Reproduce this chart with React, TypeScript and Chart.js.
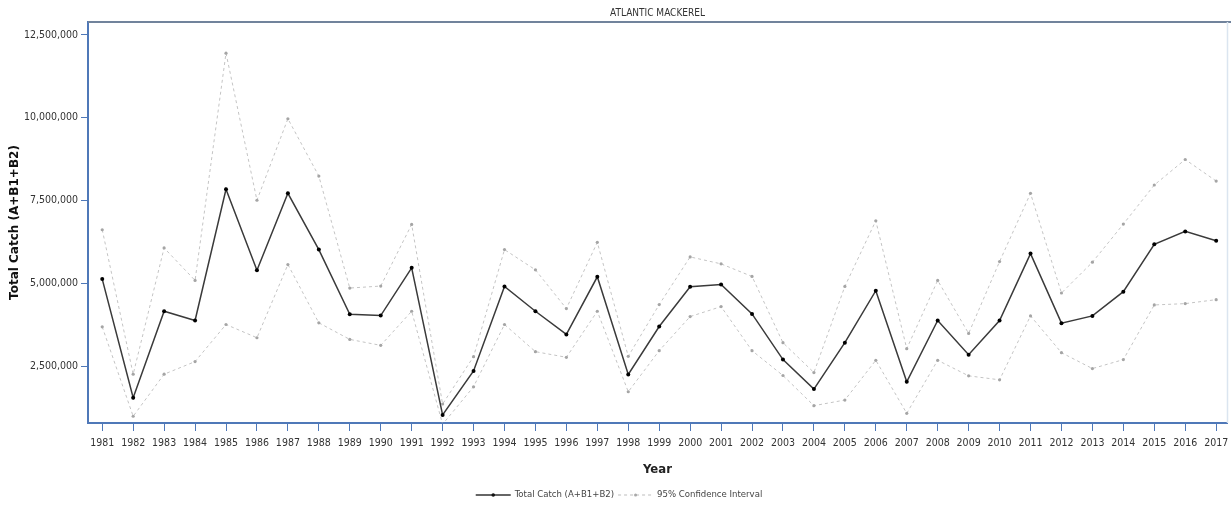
import React, { useEffect, useRef } from "react";
import { Chart, registerables } from "chart.js";

Chart.register(...registerables);

const chartTitle = "ATLANTIC MACKEREL";
const yAxisTitle = "Total Catch (A+B1+B2)";
const xAxisTitle = "Year";
const totalLabel = "Total Catch (A+B1+B2)";
const ciLabel = "95% Confidence Interval";

const years = [
  1981, 1982, 1983, 1984, 1985, 1986, 1987, 1988, 1989, 1990, 1991, 1992, 1993,
  1994, 1995, 1996, 1997, 1998, 1999, 2000, 2001, 2002, 2003, 2004, 2005, 2006,
  2007, 2008, 2009, 2010, 2011, 2012, 2013, 2014, 2015, 2016, 2017,
];

const totalCatch = [
  5130000, 1550000, 4160000, 3880000, 7840000, 5400000, 7720000, 6020000, 4070000,
  4030000, 5470000, 1030000, 2360000, 4910000, 4160000, 3460000, 5200000, 2250000,
  3700000, 4900000, 4970000, 4080000, 2700000, 1810000, 3210000, 4780000, 2030000,
  3880000, 2850000, 3880000, 5900000, 3800000, 4020000, 4750000, 6180000, 6570000,
  6290000,
];

const upperCI = [
  6620000, 2260000, 6070000, 5090000, 11950000, 7510000, 9970000, 8240000, 4860000,
  4920000, 6780000, 1360000, 2790000, 6020000, 5410000, 4240000, 6240000, 2800000,
  4360000, 5800000, 5590000, 5210000, 3210000, 2310000, 4910000, 6890000, 3030000,
  5090000, 3490000, 5660000, 7720000, 4710000, 5640000, 6790000, 7970000, 8740000,
  8090000,
];

const lowerCI = [
  3690000, 990000, 2260000, 2640000, 3760000, 3360000, 5570000, 3810000, 3310000,
  3130000, 4160000, 750000, 1880000, 3760000, 2940000, 2770000, 4160000, 1730000,
  2970000, 4000000, 4300000, 2970000, 2220000, 1310000, 1480000, 2680000, 1080000,
  2680000, 2210000, 2090000, 4020000, 2910000, 2430000, 2700000, 4350000, 4390000,
  4510000,
];

const yTicks = [2500000, 5000000, 7500000, 10000000, 12500000];

const NARROW = '"Liberation Sans Narrow", "DejaVu Sans Condensed", "Roboto Condensed", sans-serif';
const AXIS_BLUE = "#4f78b8";

const toPoints = (vals: number[]) => years.map((yr, i) => ({ x: yr, y: vals[i] }));

const decorPlugin = {
  id: "decor",
  afterDraw(chart: any) {
    const { ctx, chartArea } = chart;
    const W = chart.width;
    ctx.save();
    // top border
    ctx.strokeStyle = "#71839c";
    ctx.lineWidth = 2;
    ctx.beginPath();
    ctx.moveTo(chartArea.left, chartArea.top);
    ctx.lineTo(W, chartArea.top);
    ctx.stroke();
    // right border faint
    ctx.strokeStyle = "#dbe5f0";
    ctx.lineWidth = 1.5;
    ctx.beginPath();
    ctx.moveTo(chartArea.right + 0.5, chartArea.top);
    ctx.lineTo(chartArea.right + 0.5, chartArea.bottom);
    ctx.stroke();

    // title
    ctx.fillStyle = "#333";
    ctx.font = `10px ${NARROW}`;
    ctx.textAlign = "center";
    ctx.textBaseline = "middle";
    ctx.fillText(chartTitle, (chartArea.left + chartArea.right) / 2, 13);

    // legend
    ctx.font = `9.5px ${NARROW}`;
    ctx.textAlign = "left";
    const sym = 35;
    const gap = 4;
    const w1 = ctx.measureText(totalLabel).width;
    const w2 = ctx.measureText(ciLabel).width;
    const total = sym + gap + w1 + gap + sym + gap + w2;
    let x = 619 - total / 2;
    const ly = 495;
    ctx.strokeStyle = "#333";
    ctx.lineWidth = 1.3;
    ctx.setLineDash([]);
    ctx.beginPath();
    ctx.moveTo(x, ly);
    ctx.lineTo(x + sym, ly);
    ctx.stroke();
    ctx.fillStyle = "#111";
    ctx.beginPath();
    ctx.arc(x + sym / 2, ly, 1.8, 0, Math.PI * 2);
    ctx.fill();
    x += sym + gap;
    ctx.fillStyle = "#444";
    ctx.fillText(totalLabel, x, ly);
    x += w1 + gap;
    ctx.strokeStyle = "#bdbdbd";
    ctx.lineWidth = 1;
    ctx.setLineDash([3, 3]);
    ctx.beginPath();
    ctx.moveTo(x, ly);
    ctx.lineTo(x + sym, ly);
    ctx.stroke();
    ctx.setLineDash([]);
    ctx.fillStyle = "#a8a8a8";
    ctx.beginPath();
    ctx.arc(x + sym / 2, ly, 1.5, 0, Math.PI * 2);
    ctx.fill();
    x += sym + gap;
    ctx.fillStyle = "#444";
    ctx.fillText(ciLabel, x, ly);
    ctx.restore();
  },
};

export default function App() {
  const ref = useRef<HTMLCanvasElement | null>(null);

  useEffect(() => {
    if (!ref.current) return;
    const ciStyle = {
      borderColor: "#c4c4c4",
      borderWidth: 1,
      borderDash: [3, 3],
      pointRadius: 1.6,
      pointBackgroundColor: "#a5a5a5",
      pointBorderWidth: 0,
      tension: 0,
      fill: false,
    };
    const chart = new Chart(ref.current, {
      type: "line",
      data: {
        datasets: [
          { label: ciLabel, data: toPoints(upperCI), ...ciStyle },
          { label: ciLabel, data: toPoints(lowerCI), ...ciStyle },
          {
            label: totalLabel,
            data: toPoints(totalCatch),
            borderColor: "#3a3a3a",
            borderWidth: 1.5,
            pointRadius: 2,
            pointBackgroundColor: "#000",
            pointBorderWidth: 0,
            tension: 0,
            fill: false,
          },
        ],
      },
      options: {
        responsive: false,
        animation: false,
        events: [],
        layout: { padding: { top: 22, right: 2, bottom: 22, left: 0 } },
        plugins: {
          legend: { display: false },
          title: { display: false },
          tooltip: { enabled: false },
        },
        scales: {
          x: {
            type: "linear",
            min: 1980.54,
            max: 2017.35,
            afterBuildTicks: (scale: any) => {
              scale.ticks = years.map((v) => ({ value: v }));
            },
            afterFit: (scale: any) => {
              scale.height = 60;
              scale.paddingLeft = 0;
              scale.paddingRight = 0;
            },
            ticks: {
              autoSkip: false,
              maxRotation: 0,
              padding: 6,
              color: "#333",
              font: { family: NARROW, size: 10.5 },
              callback: (v: any) => String(v),
            },
            grid: {
              drawOnChartArea: false,
              drawTicks: true,
              tickLength: 8,
              tickColor: AXIS_BLUE,
              tickWidth: 1,
            },
            border: { display: true, color: AXIS_BLUE, width: 2 },
            title: {
              display: true,
              text: xAxisTitle,
              color: "#222",
              font: { family: NARROW, size: 13, weight: "bold" },
              padding: { top: 0, bottom: 6 },
            },
          },
          y: {
            type: "linear",
            min: 787000,
            max: 12890000,
            afterBuildTicks: (scale: any) => {
              scale.ticks = yTicks.map((v) => ({ value: v }));
            },
            afterFit: (scale: any) => {
              scale.width = 88;
              scale.paddingTop = 0;
              scale.paddingBottom = 0;
            },
            ticks: {
              padding: 3,
              color: "#333",
              font: { family: NARROW, size: 10.5 },
              callback: (v: any) => Number(v).toLocaleString("en-US"),
            },
            grid: {
              drawOnChartArea: false,
              drawTicks: true,
              tickLength: 7,
              tickColor: AXIS_BLUE,
              tickWidth: 1,
            },
            border: { display: true, color: AXIS_BLUE, width: 2 },
            title: {
              display: true,
              text: yAxisTitle,
              color: "#111",
              font: { family: '"DejaVu Sans", Verdana, sans-serif', size: 12, weight: "bold" },
              padding: { top: 8, bottom: 0 },
            },
          },
        },
      } as any,
      plugins: [decorPlugin],
    });
    return () => chart.destroy();
  }, []);

  return (
    <div style={{ position: "absolute", left: 0, top: 0, width: 1231, height: 505, background: "#fff" }}>
      <canvas ref={ref} width={1231} height={505} style={{ display: "block" }} />
    </div>
  );
}
